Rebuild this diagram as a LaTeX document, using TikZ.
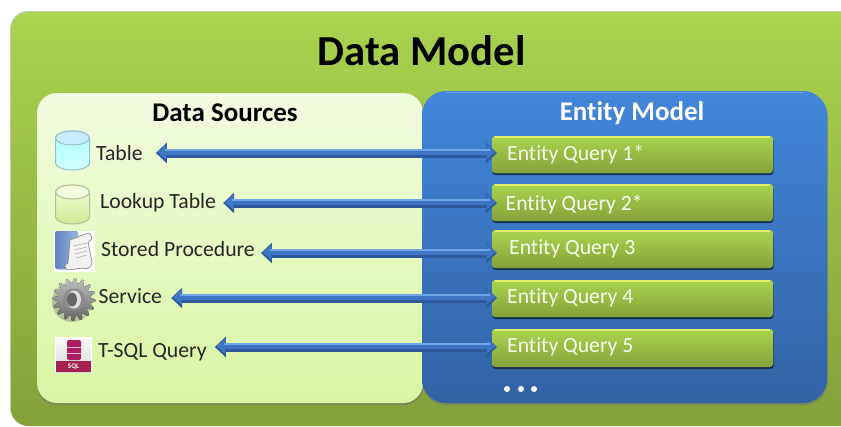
\documentclass[tikz,border=0pt]{standalone}
\usepackage{fontspec}
\setmainfont{Carlito}[Ligatures={NoCommon}]
\usetikzlibrary{arrows.meta,shadows,calc}
\definecolor{outertop}{HTML}{AAD34F}
\definecolor{outerbot}{HTML}{84A03A}
\definecolor{srctop}{HTML}{F1FCE0}
\definecolor{srcbot}{HTML}{D9F5A2}
\definecolor{enttop}{HTML}{4286DA}
\definecolor{entbot}{HTML}{3163A4}
\definecolor{qtop}{HTML}{AAD34F}
\definecolor{qbot}{HTML}{86A23A}
\definecolor{arrowdark}{HTML}{2C5A9C}
\definecolor{arrowmid}{HTML}{3F76C6}
\definecolor{arrowlite}{HTML}{6FA6E6}
\definecolor{sqlred}{HTML}{A3214F}
\definecolor{procleft}{HTML}{5F84C4}
\definecolor{procright}{HTML}{9AB4DE}
\tikzset{
    panel/.style={rounded corners=20pt,inner sep=0pt,outer sep=0pt},
    querybox/.style={rounded corners=3pt,inner sep=0pt,outer sep=0pt,minimum width=281pt,
        top color=qtop,bottom color=qbot,drop shadow={shadow xshift=0.5pt,shadow yshift=-2pt,opacity=0.55,fill=black}},
    sourcetext/.style={font=\fontsize{21.7}{24}\selectfont,text=black!85,inner sep=0pt,anchor=base west},
    querytext/.style={font=\fontsize{21.7}{24}\selectfont,text=white!90!qtop,inner sep=0pt,anchor=base west},
    paneltitle/.style={font=\fontsize{27}{30}\bfseries\selectfont,inner sep=0pt,anchor=base},
    flowbase/.style={line width=9pt,arrowdark,{Triangle[length=11pt,width=20pt]}-{Triangle[length=11pt,width=20pt]}},
    flowtop/.style={line width=6pt,arrowmid,{Triangle[length=9pt,width=15pt]}-{Triangle[length=9pt,width=15pt]}},
}
\begin{document}
\begin{tikzpicture}[x=1pt,y=-1pt]
    \useasboundingbox (0,0) rectangle (841,426);
    \clip (0,0) rectangle (841,426);
    % outer panel
    \fill[white] (0,0) rectangle (841,426);
    \fill[outertop!60!black!40!white,rounded corners=18pt] (10,11) rectangle (900,426);
    \node[panel,top color=outertop,bottom color=outerbot,minimum width=889pt,minimum height=414pt,rounded corners=18pt] (outer) at (455.5,219) {};
    \node[font=\fontsize{42.7}{46}\bfseries\selectfont,text=black,inner sep=0pt,anchor=base] (title) at (421.5,65) {Data Model};
    % the two inner panels
    \fill[black!55,opacity=0.5,rounded corners=20pt] (37,95) rectangle (424,405);
    \node[panel,top color=srctop,bottom color=srcbot,minimum width=386pt,minimum height=310pt] (sources) at (230,248) {};
    \fill[black!55,opacity=0.6,rounded corners=24pt] (422,93) rectangle (828,405);
    \node[panel,rounded corners=24pt,top color=enttop,bottom color=entbot,minimum width=405pt,minimum height=312pt] (entity) at (624.5,247) {};
    \draw[arrowlite,line width=1.5pt,line cap=round] (446,92.5) -- (803,92.5);
    \node[paneltitle,text=black] (sourcesTitle) at (225,121) {Data Sources};
    \node[paneltitle,text=white] (entityTitle) at (632,120) {Entity Model};
    % query boxes
    \foreach \i/\cy/\boxh/\tx/\ty/\txt in {1/154.5/37/507/160/Entity Query 1*,2/202.5/37/505.5/210/Entity Query 2*,
        3/249/38/509/254/Entity Query 3,4/298.5/37/507/303/Entity Query 4,5/348/38/507/352/Entity Query 5}
    {
        \node[querybox,minimum height=\boxh pt] (query\i) at (632.5,\cy) {};
        \draw[qtop!55!yellow!70!white,line width=1.5pt] ($(query\i.north west)+(3,1)$) -- ($(query\i.north east)+(-3,1)$);
        \node[querytext] (queryText\i) at (\tx,\ty) {\txt};
    }
    \foreach \x in {507,521,534}{ \fill[white] (\x,389) circle(3pt); }
    % source labels
    \node[sourcetext] (tableLabel) at (96,160) {Table};
    \node[sourcetext] (lookupLabel) at (100,208) {Lookup Table};
    \node[sourcetext] (storedLabel) at (101,256) {Stored Procedure};
    \node[sourcetext] (serviceLabel) at (98.5,303) {Service};
    \node[sourcetext] (tsqlLabel) at (98,357) {T-SQL Query};
    % arrows
    \foreach \from/\to/\y/\gap in {tableLabel/query1/153/13,lookupLabel/query2/203/7,storedLabel/query3/253/6,
        serviceLabel/query4/298/9,tsqlLabel/query5/347/8}
    {
        \draw[flowbase,shorten <=\gap pt,shorten >=-5pt] (\from.east |- 0,\y) -- (\to.west |- 0,\y);
        \draw[flowtop,shorten <=\gap pt+1.5pt,shorten >=-3.5pt] (\from.east |- 0,\y-1) -- (\to.west |- 0,\y-1);
        \draw[arrowlite,line width=1.5pt,shorten <=\gap pt+9pt,shorten >=2pt] (\from.east |- 0,\y-3) -- (\to.west |- 0,\y-3);
    }
    % cylinders
    \path[top color=cyan!32!white,bottom color=cyan!18!white,draw=cyan!45!gray!70,line width=1pt]
        (55.5,138) arc[x radius=17,y radius=7,start angle=180,end angle=360] -- (89.5,163)
        arc[x radius=17,y radius=7,start angle=0,end angle=180] -- cycle;
    \draw[fill=cyan!22!white,draw=cyan!45!gray!70,line width=1pt] (72.5,138) ellipse[x radius=17,y radius=7];
    \path[top color=srctop,bottom color=srcbot!90!olive,draw=srcbot!55!gray,line width=1pt]
        (55.5,192) arc[x radius=17,y radius=7,start angle=180,end angle=360] -- (89.5,217)
        arc[x radius=17,y radius=7,start angle=0,end angle=180] -- cycle;
    \draw[fill=srctop,draw=srcbot!55!gray,line width=1pt] (72.5,192) ellipse[x radius=17,y radius=7];
    % stored procedure icon
    \fill[white] (54,231) rectangle (95,272);
    \fill[left color=procleft,right color=procright,rounded corners=3pt] (55,231) rectangle (78,269);
    \fill[black!5,draw=black!50,line width=0.6pt] (70,240) -- (88,233) .. controls (93,235) and (93,240) .. (88,242)
        -- (92,262) .. controls (92,268) and (86,270) .. (83,268) -- (68,270) .. controls (64,269) and (64,264) .. (68,263) -- cycle;
    \foreach \k in {0,1,2,3}{ \draw[black!35,line width=0.5pt] (73+\k,246+4*\k) -- (87,243+4*\k); }
    % service gear
    \fill[black!60,opacity=0.35] (72,302) circle(20pt);
    \fill[top color=black!25,bottom color=black!60]
        plot[samples at={0,...,63}] ({74+(mod(\x,4)<2 ? 21.5 : 16.5)*cos(\x*5.625)},{299.5+(mod(\x,4)<2 ? 21.5 : 16.5)*sin(\x*5.625)}) -- cycle;
    \fill[black!45] (74,299.5) circle(11pt);
    \fill[black!12] (74,299.5) ellipse[x radius=7,y radius=9];
    \fill[black!60] (72,299.5) ellipse[x radius=5,y radius=7];
    % sql icon
    \fill[white] (55,337) rectangle (92,373);
    \fill[top color=black!3,bottom color=black!15] (56,339) rectangle (91,372);
    \fill[sqlred] (56,361) rectangle (91,372);
    \fill[sqlred!90!magenta,rounded corners=2pt] (67,340) rectangle (81,360);
    \draw[white!70!sqlred,line width=0.5pt] (67,347) -- (81,347) (67,353) -- (81,353);
    \node[font=\fontsize{7}{8}\bfseries\selectfont,text=white,inner sep=0pt] (sqlText) at (73.5,366.5) {SQL};
\end{tikzpicture}
\end{document}
